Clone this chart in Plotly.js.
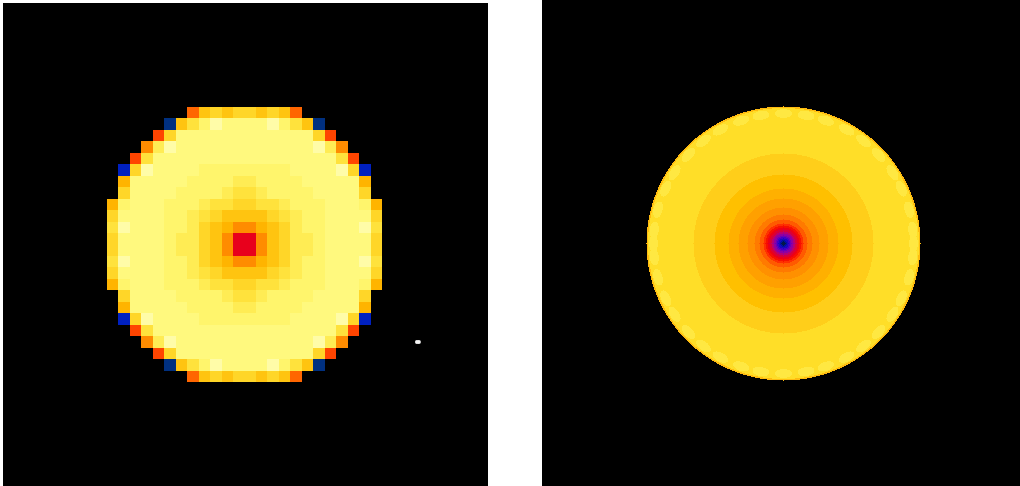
<!DOCTYPE html>
<html>
<head>
<meta charset="utf-8">
<script src="https://cdn.plot.ly/plotly-3.0.1.min.js"></script>
<style>html,body{margin:0;padding:0;background:#fff}#chart{width:1020px;height:486px}</style>
</head>
<body>
<div id="chart"></div>
<script>
// Left panel: coarse image, palette levels (0 = no signal)
var coarseCells = [
[0,0,0,0,0,0,0,5,9,10,9,10,10,9,10,9,5,0,0,0,0,0,0,0],
[0,0,0,0,0,2,9,11,13,15,14,14,14,14,15,13,11,9,2,0,0,0,0,0],
[0,0,0,0,4,10,14,14,14,14,14,14,14,14,14,14,14,14,10,4,0,0,0,0],
[0,0,0,6,12,15,14,14,14,14,14,14,14,14,14,14,14,14,15,12,6,0,0,0],
[0,0,4,11,14,14,14,14,14,14,14,14,14,14,14,14,14,14,14,14,11,4,0,0],
[0,1,10,15,14,14,14,14,13,13,13,13,13,13,13,13,14,14,14,14,15,10,1,0],
[0,8,14,14,14,14,14,13,13,13,13,12,12,13,13,13,13,14,14,14,14,14,8,0],
[0,10,14,14,14,14,13,13,13,13,12,11,11,12,13,13,13,13,14,14,14,14,10,0],
[8,13,14,14,14,13,13,13,12,11,11,10,10,11,11,12,13,13,13,14,14,14,13,8],
[10,14,14,14,14,13,13,12,11,10,9,9,9,9,10,11,12,13,13,14,14,14,14,10],
[11,15,14,14,14,13,13,12,10,9,8,6,6,8,9,10,12,13,13,14,14,14,15,11],
[10,14,14,14,14,13,12,12,10,9,6,3,3,6,9,10,12,12,13,14,14,14,14,10],
[10,14,14,14,14,13,12,12,10,9,6,3,3,6,9,10,12,12,13,14,14,14,14,10],
[11,15,14,14,14,13,13,12,10,9,8,6,6,8,9,10,12,13,13,14,14,14,15,11],
[10,14,14,14,14,13,13,12,11,10,9,9,9,9,10,11,12,13,13,14,14,14,14,10],
[8,13,14,14,14,13,13,13,12,11,11,10,10,11,11,12,13,13,13,14,14,14,13,8],
[0,10,14,14,14,14,13,13,13,13,12,11,11,12,13,13,13,13,14,14,14,14,10,0],
[0,8,14,14,14,14,14,13,13,13,13,12,12,13,13,13,13,14,14,14,14,14,8,0],
[0,1,10,15,14,14,14,14,13,13,13,13,13,13,13,13,14,14,14,14,15,10,1,0],
[0,0,4,11,14,14,14,14,14,14,14,14,14,14,14,14,14,14,14,14,11,4,0,0],
[0,0,0,6,12,15,14,14,14,14,14,14,14,14,14,14,14,14,15,12,6,0,0,0],
[0,0,0,0,4,10,14,14,14,14,14,14,14,14,14,14,14,14,10,4,0,0,0,0],
[0,0,0,0,0,2,9,11,13,15,14,14,14,14,15,13,11,9,2,0,0,0,0,0],
[0,0,0,0,0,0,0,5,9,10,9,10,10,9,10,9,5,0,0,0,0,0,0,0]
];
var coarseColors = ['#0020c0','#003080','#e8001c','#ff4400','#ff6600','#ff8c00','#ffa800','#ffb400','#ffc410','#ffd628','#ffe23c','#ffec54','#fff56c','#fff97e','#fffca8'];
var dotX = [26.55,26.72];
var dotY = [20.0,20.0];

// Right panel: concentric bands, outer radius of each band and its colour
var ringRadii = [2,3.5,5,6.5,8,10,12,14,16,18,20,24,29,36,45,55,69,90,135.5,137];
var ringColors = ['#00184a','#0010a0','#1808c0','#4000c8','#6a00b8','#9000a0','#b80070','#d80038','#ee0014','#f81000','#ff3000','#ff5a00','#ff7a00','#ff9000','#ffa000','#ffb000','#ffc000','#ffce1a','#ffde28','#ffbb10'];
var blobAngles = [0,10,19,29,38,47,57,65,75,84,90];
var blobColor = '#ffe842';
var blobRadius = 130;
</script>
<script>
function scale(colors){
  return colors.map(function(c,i){return [i/(colors.length-1),c];});
}
var cellPx = 275/24, coarseLeft = 107, coarseTop = 107;
var panelL = {l:3,r:488,t:3,b:486};
var panelR = {l:542,r:1020,t:0,b:486};
var W = 1020, H = 486, cxR = 783, cyR = 243;

var zCoarse = coarseCells.map(function(row){
  return row.map(function(v){return v===0?null:v;});
});

// right-hand image: band looked up from the ring table, with the pale rim patches
var fineColors = ringColors.concat([blobColor]);
var blobLevel = fineColors.length-1;
var coords = [], zFine = [], i, j;
for(i=-138;i<=138;i++) coords.push(i);
for(j=0;j<coords.length;j++){
  var row=[];
  for(i=0;i<coords.length;i++){
    var dx=coords[i], dy=coords[j], r=Math.sqrt(dx*dx+dy*dy), lev=null, k;
    for(k=0;k<ringRadii.length;k++){ if(r<=ringRadii[k]){lev=k;break;} }
    if(lev===ringRadii.length-2){
      var ang=Math.atan2(Math.abs(dx),Math.abs(dy))*180/Math.PI;
      for(k=0;k<blobAngles.length;k++){
        var tan=(ang-blobAngles[k])*Math.PI/180*blobRadius/8.5, rad=(r-blobRadius)/4.5;
        if(tan*tan+rad*rad<=1){lev=blobLevel;break;}
      }
    }
    row.push(lev);
  }
  zFine.push(row);
}

var traces = [
  {type:'heatmap', z:zCoarse, xaxis:'x', yaxis:'y', colorscale:scale(coarseColors), zmin:1, zmax:coarseColors.length, showscale:false, hoverinfo:'skip'},
  {type:'scatter', mode:'markers', x:dotX, y:dotY, xaxis:'x', yaxis:'y', marker:{color:'#f4f4f4',size:4,line:{width:0}}, hoverinfo:'skip'},
  {type:'heatmap', z:zFine, x:coords, y:coords, xaxis:'x2', yaxis:'y2', colorscale:scale(fineColors), zmin:0, zmax:fineColors.length-1, showscale:false, hoverinfo:'skip'}
];
function ax(extra){
  var o={visible:false,showgrid:false,zeroline:false,fixedrange:true};
  for(var k in extra) o[k]=extra[k];
  return o;
}
var layout = {
  width:W, height:H, margin:{l:0,r:0,t:0,b:0}, paper_bgcolor:'#ffffff', plot_bgcolor:'#000000', showlegend:false,
  xaxis:ax({domain:[panelL.l/W,panelL.r/W], range:[(panelL.l-coarseLeft)/cellPx-0.5,(panelL.r-coarseLeft)/cellPx-0.5]}),
  yaxis:ax({domain:[1-panelL.b/H,1-panelL.t/H], range:[(panelL.b-coarseTop)/cellPx-0.5,(panelL.t-coarseTop)/cellPx-0.5]}),
  xaxis2:ax({domain:[panelR.l/W,panelR.r/W], range:[panelR.l-cxR,panelR.r-cxR]}),
  yaxis2:ax({domain:[1-panelR.b/H,1-panelR.t/H], range:[cyR-panelR.b,cyR-panelR.t]})
};
Plotly.newPlot('chart',traces,layout,{displayModeBar:false,staticPlot:true});
</script>
</body>
</html>
